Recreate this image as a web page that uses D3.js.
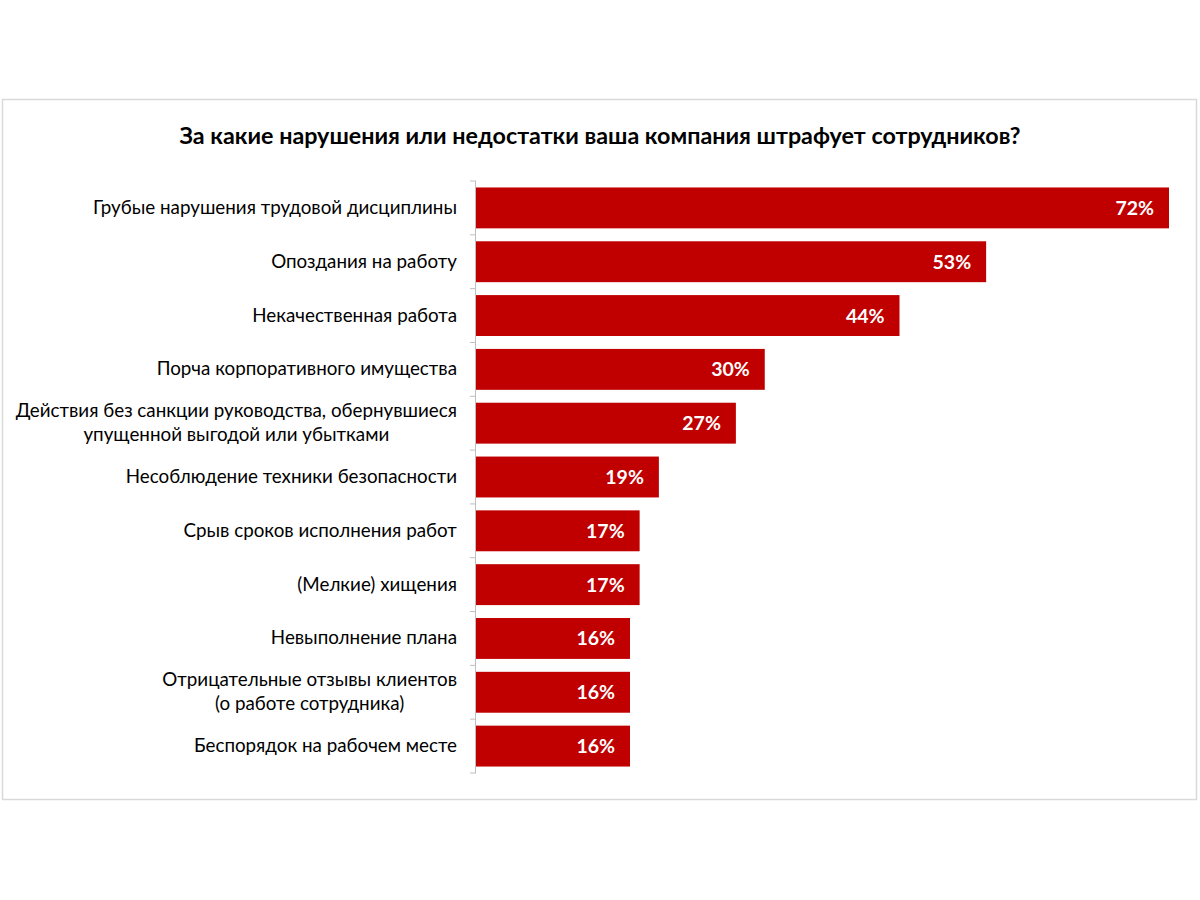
<!DOCTYPE html>
<html><head><meta charset="utf-8">
<script src="https://cdn.jsdelivr.net/npm/d3@7"></script>
<style>body{margin:0;background:#fff}svg{display:block}</style>
</head><body>
<script>
const categories = [
  ["Грубые нарушения трудовой дисциплины"],
  ["Опоздания на работу"],
  ["Некачественная работа"],
  ["Порча корпоративного имущества"],
  ["Действия без санкции руководства, обернувшиеся", "упущенной выгодой или убытками"],
  ["Несоблюдение техники безопасности"],
  ["Срыв сроков исполнения работ"],
  ["(Мелкие) хищения"],
  ["Невыполнение плана"],
  ["Отрицательные отзывы клиентов", "(о работе сотрудника)"],
  ["Беспорядок на рабочем месте"]
];
const values = [72, 53, 44, 30, 27, 19, 17, 17, 16, 16, 16];
const title = "За какие нарушения или недостатки ваша компания штрафует сотрудников?";

const W = 1200, H = 900;
const svg = d3.select("body").append("svg").attr("width", W).attr("height", H);
const font = "Lato, 'Open Sans', sans-serif";

svg.append("rect").attr("x", 2.5).attr("y", 99.5).attr("width", 1194).attr("height", 700)
  .attr("fill", "#fff").attr("stroke", "#d9d9d9").attr("stroke-width", 1.5);

svg.append("text").attr("x", 600).attr("y", 144).attr("text-anchor", "middle")
  .attr("font-family", font).attr("font-weight", "bold").attr("font-size", 23.3)
  .attr("fill", "#000").text(title);

const x0 = 476;
const x = d3.scaleLinear().domain([0, 72]).range([x0, 1169]);
const idx = d3.range(values.length);
const y = d3.scaleBand().domain(idx).range([181, 773]).paddingInner(0.24).paddingOuter(0.12);

svg.selectAll("rect.bar").data(idx).enter().append("rect").attr("class", "bar")
  .attr("x", x0).attr("y", i => y(i)).attr("width", i => x(values[i]) - x0)
  .attr("height", y.bandwidth()).attr("fill", "#c00000");

// axis
const axisG = svg.append("g");
axisG.append("line").attr("x1", x0 - 0.5).attr("x2", x0 - 0.5).attr("y1", 181).attr("y2", 773)
  .attr("stroke", "#bfbfbf").attr("stroke-width", 1);
d3.range(values.length + 1).forEach(k => {
  const yy = 181 + k * (592 / values.length);
  axisG.append("line").attr("x1", x0 - 6).attr("x2", x0).attr("y1", yy).attr("y2", yy)
    .attr("stroke", "#bfbfbf").attr("stroke-width", 1);
});

// category labels
idx.forEach(i => {
  const lines = categories[i];
  const cy = y(i) + y.bandwidth() / 2;
  const lh = 24;
  const t = svg.append("text").attr("text-anchor", "middle")
    .attr("font-family", font).attr("font-size", 18.8).attr("fill", "#000");
  lines.forEach((ln, j) => {
    t.append("tspan").attr("x", 0).attr("y", cy + (j - (lines.length - 1) / 2) * lh + 6).text(ln);
  });
  const bw = t.node().getBBox().width;
  t.selectAll("tspan").attr("x", 457 - bw / 2);
});

// value labels
svg.selectAll("text.val").data(idx).enter().append("text").attr("class", "val")
  .attr("x", i => x(values[i]) - 15).attr("y", i => y(i) + y.bandwidth() / 2 + 7)
  .attr("text-anchor", "end").attr("font-family", font).attr("font-weight", "bold")
  .attr("font-size", 19.5).attr("fill", "#fff").text(i => values[i] + "%");
</script>
</body></html>
